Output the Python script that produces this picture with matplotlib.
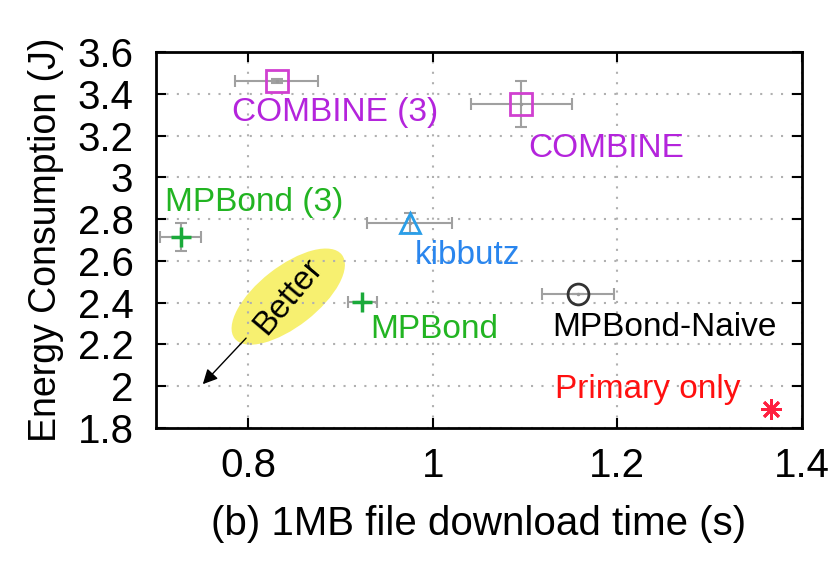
import matplotlib
matplotlib.use("Agg")
import matplotlib.pyplot as plt
from matplotlib.patches import Ellipse
from matplotlib.transforms import ScaledTranslation

plt.rcParams["font.family"] = ["Liberation Sans", "DejaVu Sans"]

# measured points: download time (s), energy (J), error bars
names = ["COMBINE (3)", "COMBINE", "MPBond (3)", "kibbutz", "MPBond", "MPBond-Naive", "Primary only"]
time_s = [0.831, 1.096, 0.727, 0.975, 0.924, 1.157, 1.366]
energy_j = [3.463, 3.350, 2.716, 2.783, 2.402, 2.442, 1.890]
time_err = [0.045, 0.055, 0.022, 0.046, 0.016, 0.039, 0.0]
energy_err = [0.01, 0.11, 0.067, 0.048, 0.0, 0.0, 0.0]

# label anchor (left edge, vertical centre) for each point
label_x = [0.7826, 1.1032, 0.710, 0.9808, 0.932, 1.130, 1.1325]
label_y = [3.310, 3.140, 2.878, 2.625, 2.270, 2.280, 1.985]

markers = ["s", "s", "+", "^", "+", "o", "*"]
marker_colors = ["#d040d0", "#d040d0", "#1aaa3a", "#2a9ee8", "#1aaa3a", "#333333", "#ff2040"]
text_colors = ["#b424dc", "#b424dc", "#22b422", "#2a86ee", "#22b422", "#000000", "#ff1010"]
marker_sizes = [16, 16, 15, 15, 15, 15, 15]

fig = plt.figure(figsize=(8.36, 5.61), dpi=100)
ax = fig.add_axes([0.1862, 0.2371, 0.9593 - 0.1862, 0.9073 - 0.2371])

for i in range(len(names)):
    if time_err[i] > 0:
        ax.errorbar(time_s[i], energy_j[i], xerr=time_err[i], yerr=energy_err[i],
                    fmt="none", ecolor="#a0a0a0", elinewidth=1.5, capsize=4, capthick=1.5, zorder=2)
    if markers[i] == "*":
        ax.plot(time_s[i], energy_j[i], marker=(8, 2, 0), ms=marker_sizes[i],
                color=marker_colors[i], mew=2, linestyle="none", zorder=3)
    elif markers[i] == "+":
        ax.plot(time_s[i], energy_j[i], marker="+", ms=marker_sizes[i],
                color=marker_colors[i], mew=2.5, linestyle="none", zorder=3)
    else:
        ax.plot(time_s[i], energy_j[i], marker=markers[i], ms=marker_sizes[i],
                mfc="none", mec=marker_colors[i], mew=2, linestyle="none", zorder=3)
        ax.plot(time_s[i], energy_j[i], marker=".", ms=3, color="#999999", zorder=4)
    ax.text(label_x[i], label_y[i], names[i], color=text_colors[i], fontsize=24,
            ha="left", va="center")

# "Better" hint: yellow ellipse (sized in inches) with rotated text and arrow
better_xy = (0.8436, 2.429)
ell_tr = fig.dpi_scale_trans + ScaledTranslation(better_xy[0], better_xy[1], ax.transData)
ax.add_patch(Ellipse((0, 0), 1.36, 0.60, angle=38, transform=ell_tr,
                     fc="#f7f070", ec="none", zorder=1))
ax.text(better_xy[0], better_xy[1], "Better", fontsize=24, rotation=50, rotation_mode="anchor",
        ha="center", va="center", zorder=2)
ax.annotate("", xy=(0.749, 2.0), xytext=(0.800, 2.24),
            arrowprops=dict(arrowstyle="-|>", color="black", lw=1, mutation_scale=22))

ax.set_xlim(0.7, 1.4)
ax.set_ylim(1.8, 3.6)
ax.set_xticks([0.8, 1.0, 1.2, 1.4])
ax.set_xticklabels(["0.8", "1", "1.2", "1.4"])
ax.set_yticks([1.8, 2.0, 2.2, 2.4, 2.6, 2.8, 3.0, 3.2, 3.4, 3.6])
ax.set_yticklabels(["1.8", "2", "2.2", "2.4", "2.6", "2.8", "3", "3.2", "3.4", "3.6"])
ax.tick_params(direction="in", length=7, width=1.5, top=True, right=True, labelsize=29)
ax.tick_params(axis="y", pad=16)
ax.tick_params(axis="x", pad=14)
ax.grid(True, linestyle=(0, (1, 4)), color="#b0b0b0", lw=1.5)
for s in ax.spines.values():
    s.set_linewidth(2)

ax.set_xlabel("(b) 1MB file download time (s)", fontsize=29, labelpad=14)
ax.set_ylabel("Energy Consumption (J)", fontsize=27, labelpad=10)

fig.savefig("out.png", dpi=100)
